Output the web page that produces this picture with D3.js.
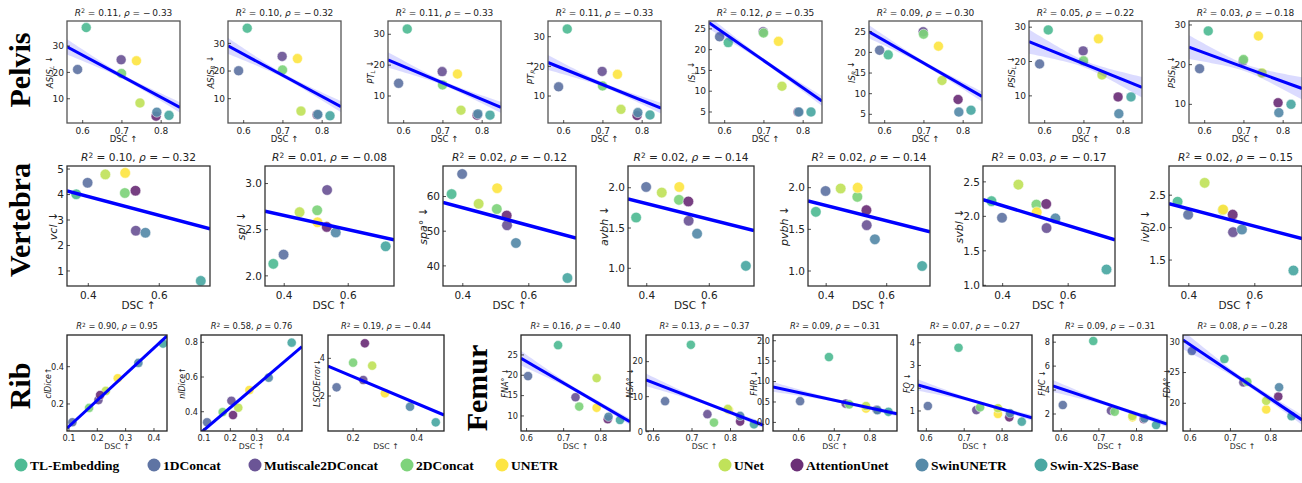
<!DOCTYPE html>
<html lang="en">
<head>
<meta charset="UTF-8">
<title>DSC vs anatomical metrics</title>
<script src="https://d3js.org/d3.v7.min.js"></script>
<style>
  body { margin: 0; background: #fff; }
  svg text { font-family: "DejaVu Sans", sans-serif; fill: #222; }
  svg text.serif { font-family: "Liberation Serif", "Times New Roman", serif; font-weight: bold; fill: #000; }
</style>
</head>
<body>
<svg id="chart"></svg>
<script>
const W = 1302, H = 483;

// methods, in drawing order
const methods = ["TL-Embedding", "1DConcat", "Mutiscale2DConcat", "2DConcat", "UNETR",
                 "UNet", "AttentionUnet", "SwinUNETR", "Swin-X2S-Base"];
const methodColors = ["#4fbb94", "#5f74a3", "#6b5596", "#7ed37b", "#fde543",
                      "#c0e25a", "#6b2f77", "#568aa8", "#4aa7a2"];

// ---- Pelvis ----
const pelvisDSC = [0.609, 0.587, 0.698, 0.699, 0.737, 0.746, 0.787, 0.789, 0.820];
const pelvisMetric = ["ASIS", "ASIS", "PT", "PT", "IS", "IS", "PSIS", "PSIS"];
const pelvisSide = ["L", "R", "L", "R", "L", "R", "L", "R"];
const pelvisR2 = [0.11, 0.10, 0.11, 0.11, 0.12, 0.09, 0.05, 0.03];
const pelvisRho = [-0.33, -0.32, -0.33, -0.33, -0.35, -0.30, -0.22, -0.18];
const pelvisValues = [
  [37.0, 21.1, 24.8, 19.6, 24.4, 8.4, 3.4, 4.9, 3.7],
  [35.5, 20.1, 25.3, 20.4, 24.5, 5.5, 4.2, 4.3, 3.8],
  [31.7, 14.1, 17.9, 13.6, 17.1, 5.4, 3.8, 4.2, 3.8],
  [32.6, 13.1, 18.3, 13.4, 17.3, 5.5, 3.4, 4.4, 3.6],
  [21.7, 23.1, 24.3, 24.0, 22.0, 11.2, 5.0, 5.0, 5.0],
  [19.4, 20.5, 25.0, 24.4, 21.5, 13.2, 8.6, 5.55, 6.0],
  [29.2, 19.3, 23.1, 20.2, 26.6, 16.1, 9.7, 4.8, 9.7],
  [28.5, 19.0, 21.0, 21.3, 27.2, 17.9, 10.4, 7.9, 10.0]
];
const pelvisFit = [[29.7, 6.7], [29.1, 7.1], [21.7, 6.3], [21.3, 5.9],
                   [26.5, 7.65], [25.0, 9.3], [25.8, 12.5], [24.4, 14.0]];
const pelvisBand = [[2.9, 0.8, 2.0], [2.9, 0.8, 2.0], [2.5, 0.7, 1.8], [2.5, 0.7, 1.8],
                    [1.5, 0.5, 1.2], [1.6, 0.5, 1.2], [3.5, 1.0, 3.0], [3.0, 0.9, 2.8]];
const pelvisYLim = [[0.8, 39.5], [1.2, 38.1], [1.25, 34.3], [0.9, 35.3],
                    [2.35, 26.9], [2.9, 27.6], [2.1, 31.8], [5.3, 31.0]];
const pelvisYTicks = [[10, 20, 30], [10, 20, 30], [10, 20, 30], [10, 20, 30],
                      [5, 10, 15, 20, 25], [5, 10, 15, 20, 25], [10, 20, 30], [10, 20, 30]];
const pelvisXLim = [0.56, 0.848];
const pelvisXTicks = [0.6, 0.7, 0.8];

// ---- Vertebra ----
const vertebraDSC = [0.366, 0.398, 0.534, 0.503, 0.504, 0.448, 0.533, 0.561, 0.717];
const vertebraMetric = ["vcl", "spl", "spa°", "avbh", "pvbh", "svbl", "ivbl"];
const vertebraR2 = [0.10, 0.01, 0.02, 0.02, 0.02, 0.03, 0.02];
const vertebraRho = [-0.32, -0.08, -0.12, -0.14, -0.14, -0.17, -0.15];
const vertebraValues = [
  [4.01, 4.46, 2.58, 4.06, 4.85, 4.79, 4.15, 2.50, 0.61],
  [2.13, 2.23, 2.93, 2.71, 2.58, 2.69, 2.53, 2.47, 2.32],
  [60.7, 66.5, 51.7, 56.4, 62.4, 57.9, 54.5, 46.6, 36.5],
  [1.63, 2.01, 1.59, 1.85, 2.01, 1.94, 1.83, 1.43, 1.03],
  [1.71, 1.96, 1.55, 1.89, 2.00, 1.99, 1.73, 1.38, 1.06],
  [2.22, 1.98, 1.83, 2.17, 2.06, 2.46, 2.18, 1.97, 1.23],
  [2.40, 2.20, 1.93, 2.27, 2.28, 2.69, 2.20, 1.97, 1.34]
];
const vertebraFit = [[4.14, 2.65], [2.70, 2.39], [58.3, 48.0], [1.86, 1.47],
                     [1.84, 1.47], [2.24, 1.66], [2.37, 1.83]];
const vertebraYLim = [[0.41, 5.12], [1.89, 3.19], [34.2, 68.8], [0.78, 2.27],
                      [0.82, 2.26], [0.99, 2.73], [1.1, 2.95]];
const vertebraYTicks = [[1, 2, 3, 4, 5], [2.0, 2.5, 3.0], [40, 50, 60], [1.0, 1.5, 2.0],
                        [1.0, 1.5, 2.0], [1.0, 1.5, 2.0, 2.5], [1.5, 2.0, 2.5]];
const vertebraYFmt = ["", ".1f", "", ".1f", ".1f", ".1f", ".1f"];
const vertebraXLim = [0.34, 0.743];
const vertebraXTicks = [0.4, 0.6];

// ---- Rib (no TL-Embedding point) ----
const ribDSC = [null, 0.112, 0.204, 0.171, 0.272, 0.230, 0.210, 0.345, 0.432];
const ribLSCDDSC = [null, 0.148, 0.232, 0.200, 0.300, 0.260, 0.237, 0.379, 0.460];
const ribMetric = ["clDice", "nlDice", "LSCDError"];
const ribArrow = ["↑", "↑", "↓"];
const ribR2 = [0.90, 0.58, 0.19];
const ribRho = [0.95, 0.76, -0.44];
const ribValues = [
  [null, 0.102, 0.221, 0.179, 0.338, 0.270, 0.248, 0.420, 0.524],
  [null, 0.339, 0.463, 0.398, 0.525, 0.423, 0.381, 0.596, 0.798],
  [null, 2.46, 2.85, 3.77, 2.14, 3.61, 4.80, 1.43, 0.60]
];
const ribFit = [[0.07, 0.565], [0.28, 0.775], [3.59, 0.99]];
const ribYLim = [[0.055, 0.57], [0.289, 0.842], [0.14, 5.24]];
const ribYTicks = [[0.2, 0.4], [0.4, 0.6, 0.8], [2, 4]];
const ribXLim = [[0.093, 0.446], [0.089, 0.471], [0.121, 0.486]];
const ribXTicks = [[0.1, 0.2, 0.3, 0.4], [0.1, 0.2, 0.3, 0.4], [0.2, 0.4]];

// ---- Femur ----
const femurDSC = [0.685, 0.604, 0.732, 0.742, 0.789, 0.789, 0.819, 0.821, 0.852];
const femurNSADSC = [0.697, 0.630, 0.740, 0.757, 0.796, 0.793, 0.825, 0.825, 0.861];
const femurMetric = ["FNA°", "NSA°", "FHR", "FO", "FHC", "FDA°"];
const femurR2 = [0.16, 0.13, 0.09, 0.07, 0.09, 0.08];
const femurRho = [-0.40, -0.37, -0.31, -0.27, -0.31, -0.28];
const femurValues = [
  [27.4, 19.8, 14.6, 12.3, 12.0, 19.3, 9.2, 9.8, 9.0],
  [24.8, 8.7, 5.0, 2.6, 6.2, 6.5, 2.9, 4.5, 2.1],
  [1.60, 0.52, 0.46, 0.44, 0.34, 0.40, 0.31, 0.30, 0.26],
  [3.78, 1.22, 1.04, 1.16, 0.87, 1.12, 0.72, 0.90, 0.53],
  [8.1, 2.75, 2.28, 2.19, 1.72, 1.83, 1.58, 1.64, 1.08],
  [27.2, 28.5, 23.4, 23.5, 19.0, 20.4, 21.1, 22.6, 17.9]
];
const femurFit = [[24.2, 8.6], [14.8, 1.9], [0.87, 0.21], [2.14, 0.70], [4.34, 1.16], [30.3, 17.3]];
const femurBand = [[1.8, 0.5, 0.8], [1.8, 0.5, 0.8], [0.12, 0.04, 0.06],
                   [0.25, 0.07, 0.12], [0.5, 0.15, 0.25], [1.5, 0.4, 0.8]];
const femurYLim = [[6.3, 29.9], [0.2, 27.6], [-0.21, 2.14], [0.12, 4.34], [0.58, 8.6], [15.5, 31.1]];
const femurYTicks = [[10, 15, 20, 25], [0, 10, 20], [0.0, 0.5, 1.0, 1.5, 2.0],
                     [1, 2, 3, 4], [2, 4, 6, 8], [20, 25, 30]];
const femurXLim = [[0.585, 0.879], [0.5805, 0.8844], [0.528, 0.876],
                   [0.578, 0.879], [0.578, 0.881], [0.582, 0.878]];
const femurXTicks = [0.6, 0.7, 0.8];

// ---- layout (pixels) ----
const pelvisLeft = [67, 228, 388, 548, 709, 869, 1029, 1189];
const vertebraBox = [[67, 210], [265, 394], [443, 576], [628, 754], [808, 930], [983, 1115], [1169, 1302]];
const ribBox = [[67, 167], [201, 302], [328, 444]];
const femurBox = [[521, 630], [646, 763], [773, 897], [918, 1032], [1053, 1167], [1183, 1302]];
const legendX = [21, 154, 255, 407, 502, 725, 797, 922, 1041];

const styles = {
  pelvis:   { top: 21, bottom: 123, r: 5, lw: 3, tick: 9, title: 9, titleY: 16, ylab: 8.5, xlab: 8.5, tickY: 10.5, xlabY: 19, frame: "#555" },
  vertebra: { top: 166, bottom: 286, r: 5.3, lw: 3.5, tick: 10.5, title: 10.6, titleY: 161, ylab: 11, xlab: 10.5, tickY: 13, xlabY: 23, frame: "#333" },
  small:    { top: 335, bottom: 431, r: 4.6, lw: 3, tick: 8.2, title: 8.3, titleY: 329, ylab: 8, xlab: 7.8, tickY: 9.5, xlabY: 17.5, frame: "#222" }
};

const svg = d3.select("#chart").attr("width", W).attr("height", H)
  .attr("viewBox", `0 0 ${W} ${H}`);
svg.append("rect").attr("width", W).attr("height", H).attr("fill", "#fff");

const fmtNum = v => (v < 0 ? "\u2212\u2009" : "") + Math.abs(v).toFixed(2);

let clipN = 0;
function drawPanel(p) {
  const s = p.style;
  const x = d3.scaleLinear().domain(p.xDomain).range([p.left, p.right]);
  const y = d3.scaleLinear().domain(p.yDomain).range([s.bottom, s.top]);
  const g = svg.append("g");
  const id = "clip" + clipN++;
  g.append("clipPath").attr("id", id).append("rect")
    .attr("x", p.left).attr("y", s.top)
    .attr("width", p.right - p.left).attr("height", s.bottom - s.top);
  const plot = g.append("g").attr("clip-path", `url(#${id})`);

  // scatter of the methods
  const pts = methods.map((m, i) => ({ i, x: p.xs[i], y: p.ys[i] }))
    .filter(d => d.x != null && d.y != null);
  plot.selectAll("circle").data(pts).join("circle")
    .attr("cx", d => x(d.x)).attr("cy", d => y(d.y)).attr("r", s.r)
    .attr("fill", d => methodColors[d.i]).attr("fill-opacity", 0.92)
    .attr("stroke", "#fff").attr("stroke-width", 0.5);

  // regression line + ci band
  const fitAt = t => p.fit[0] + (p.fit[1] - p.fit[0]) * t;
  const xAt = t => p.xDomain[0] + (p.xDomain[1] - p.xDomain[0]) * t;
  if (p.band) {
    const [bl, bm, br] = p.band;
    const half = t => {
      const e = t < 0.5 ? bl : br;
      const u = (t - 0.5) / 0.5;
      return Math.sqrt(bm * bm + (e * e - bm * bm) * u * u);
    };
    const area = d3.area()
      .x(t => x(xAt(t)))
      .y0(t => y(fitAt(t) - half(t)))
      .y1(t => y(fitAt(t) + half(t)));
    plot.append("path").datum(d3.range(0, 1.0001, 0.025)).attr("d", area)
      .attr("fill", "#0000ff").attr("fill-opacity", 0.14);
  }
  plot.append("line")
    .attr("x1", x(xAt(0))).attr("y1", y(fitAt(0)))
    .attr("x2", x(xAt(1))).attr("y2", y(fitAt(1)))
    .attr("stroke", "#0000ff").attr("stroke-width", s.lw);

  // frame
  g.append("rect").attr("x", p.left).attr("y", s.top)
    .attr("width", p.right - p.left).attr("height", s.bottom - s.top)
    .attr("fill", "none").attr("stroke", s.frame).attr("stroke-width", 1.3);

  // ticks (pointing inward)
  const yFmt = d3.format(p.yFmt || "");
  g.selectAll(".yt").data(p.yTicks).join("line")
    .attr("x1", p.left).attr("x2", p.left + 3)
    .attr("y1", d => y(d)).attr("y2", d => y(d))
    .attr("stroke", "#222").attr("stroke-width", 0.8);
  const ylabs = g.selectAll(".ytl").data(p.yTicks).join("text")
    .attr("x", p.left - 3).attr("y", d => y(d)).attr("dy", "0.35em")
    .attr("text-anchor", "end").attr("font-size", s.tick)
    .text(d => yFmt(d));
  g.selectAll(".xt").data(p.xTicks).join("line")
    .attr("x1", d => x(d)).attr("x2", d => x(d))
    .attr("y1", s.bottom).attr("y2", s.bottom - 3)
    .attr("stroke", "#222").attr("stroke-width", 0.8);
  g.selectAll(".xtl").data(p.xTicks).join("text")
    .attr("x", d => x(d)).attr("y", s.bottom + s.tickY)
    .attr("text-anchor", "middle").attr("font-size", s.tick)
    .text(d => d3.format(".1f")(d));

  // x label
  g.append("text").attr("x", (p.left + p.right) / 2).attr("y", s.bottom + s.xlabY)
    .attr("text-anchor", "middle").attr("font-size", s.xlab).text("DSC \u2191");

  // y label
  let tw = 0;
  ylabs.each(function () { tw = Math.max(tw, this.getComputedTextLength()); });
  const yl = g.append("text")
    .attr("transform", `translate(${p.left - 3 - tw},${(s.top + s.bottom) / 2}) rotate(-90)`)
    .attr("text-anchor", "middle").attr("font-size", s.ylab);
  yl.append("tspan").attr("font-style", "italic").text(p.yName);
  if (p.ySub) {
    yl.append("tspan").attr("font-style", "italic").attr("font-size", s.ylab * 0.7)
      .attr("dy", "0.3em").text(p.ySub);
    yl.append("tspan").attr("dy", "-0.25em").text(" " + p.arrow);
  } else {
    yl.append("tspan").text(p.arrow);
  }

  // title
  const t = g.append("text").attr("x", (p.left + p.right) / 2).attr("y", s.titleY)
    .attr("text-anchor", "middle").attr("font-size", s.title);
  t.append("tspan").attr("font-style", "italic").text("R");
  t.append("tspan").attr("font-size", s.title * 0.7).attr("dy", "-0.4em").text("2");
  t.append("tspan").attr("dy", "0.28em").text(" = " + p.r2.toFixed(2) + ", ");
  t.append("tspan").attr("font-style", "italic").text("\u03c1");
  t.append("tspan").text(" = " + fmtNum(p.rho));
}

// pelvis row
pelvisMetric.forEach((m, k) => drawPanel({
  style: styles.pelvis, left: pelvisLeft[k], right: pelvisLeft[k] + 113,
  xDomain: pelvisXLim, yDomain: pelvisYLim[k], xTicks: pelvisXTicks, yTicks: pelvisYTicks[k],
  xs: pelvisDSC, ys: pelvisValues[k], fit: pelvisFit[k], band: pelvisBand[k],
  yName: m, ySub: pelvisSide[k], arrow: "\u2193", r2: pelvisR2[k], rho: pelvisRho[k]
}));

// vertebra row
vertebraMetric.forEach((m, k) => drawPanel({
  style: styles.vertebra, left: vertebraBox[k][0], right: vertebraBox[k][1],
  xDomain: vertebraXLim, yDomain: vertebraYLim[k], xTicks: vertebraXTicks, yTicks: vertebraYTicks[k],
  yFmt: vertebraYFmt[k],
  xs: vertebraDSC, ys: vertebraValues[k], fit: vertebraFit[k], band: null,
  yName: m + " ", arrow: "\u2193", r2: vertebraR2[k], rho: vertebraRho[k]
}));

// rib row
ribMetric.forEach((m, k) => drawPanel({
  style: styles.small, left: ribBox[k][0], right: ribBox[k][1],
  xDomain: ribXLim[k], yDomain: ribYLim[k], xTicks: ribXTicks[k], yTicks: ribYTicks[k],
  yFmt: k < 2 ? ".1f" : "",
  xs: k === 2 ? ribLSCDDSC : ribDSC, ys: ribValues[k], fit: ribFit[k], band: null,
  yName: m, arrow: ribArrow[k], r2: ribR2[k], rho: ribRho[k]
}));

// femur row
femurMetric.forEach((m, k) => drawPanel({
  style: styles.small, left: femurBox[k][0], right: femurBox[k][1],
  xDomain: femurXLim[k], yDomain: femurYLim[k], xTicks: femurXTicks, yTicks: femurYTicks[k],
  yFmt: k === 2 ? ".1f" : "",
  xs: k === 1 ? femurNSADSC : femurDSC, ys: femurValues[k], fit: femurFit[k], band: femurBand[k],
  yName: m + " ", arrow: "\u2193", r2: femurR2[k], rho: femurRho[k]
}));

// row labels
const rowLabels = [["Pelvis", 30, 70], ["Vertebra", 30, 220], ["Rib", 30, 386], ["Femur", 487, 388]];
svg.selectAll(".rowlab").data(rowLabels).join("text")
  .attr("class", "serif")
  .attr("transform", d => `translate(${d[1]},${d[2]}) rotate(-90)`)
  .attr("text-anchor", "middle").attr("font-size", 30)
  .text(d => d[0]);

// legend
const leg = svg.append("g").selectAll("g").data(methods).join("g")
  .attr("transform", (d, i) => `translate(${legendX[i]},465)`);
leg.append("circle").attr("r", 6.5).attr("fill", (d, i) => methodColors[i]);
leg.append("text").attr("class", "serif").attr("x", 9).attr("dy", "0.35em")
  .attr("font-size", 13.5).text(d => d);
</script>
</body>
</html>
